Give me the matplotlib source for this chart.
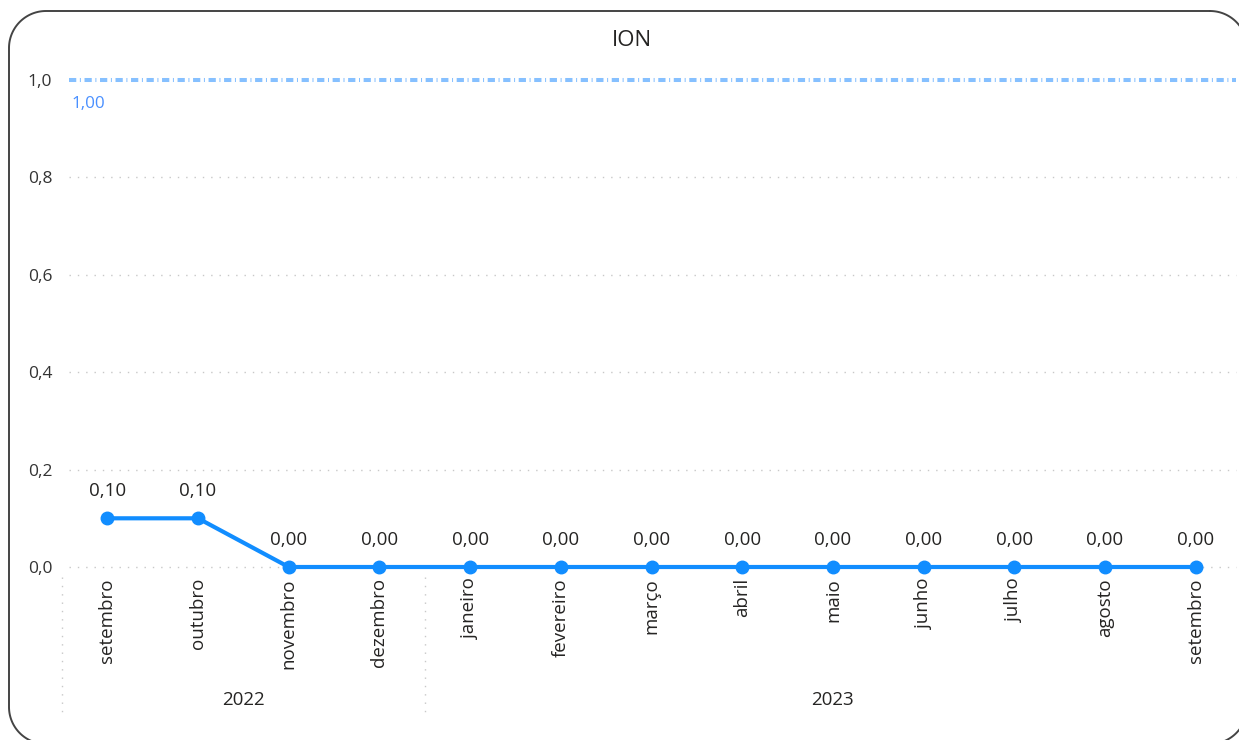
import matplotlib
matplotlib.use("Agg")
import matplotlib.pyplot as plt
import numpy as np
from matplotlib.lines import Line2D

# data
months = ["setembro", "outubro", "novembro", "dezembro", "janeiro", "fevereiro",
          "março", "abril", "maio", "junho", "julho", "agosto", "setembro"]
years = ["2022", "2023"]
year_counts = [4, 9]
ion = [0.10, 0.10, 0.00, 0.00, 0.00, 0.00, 0.00, 0.00, 0.00, 0.00, 0.00, 0.00, 0.00]
meta = 1.0
yticks = [0.0, 0.2, 0.4, 0.6, 0.8, 1.0]

plt.rcParams['font.family'] = ['Open Sans', 'DejaVu Sans']

W, H = 1239, 740
fig = plt.figure(figsize=(W / 100, H / 100), dpi=100)

# rounded card border, drawn as a polyline in pixel coordinates (y down)
bg = fig.add_axes([0, 0, 1, 1])
bg.set_xlim(0, W)
bg.set_ylim(H, 0)
bg.axis("off")
L, T, R, B, r = 9, 11, 1247, 744, 37
bx, by = [], []
for cx, cy, a0 in [(R - r, T + r, -90), (R - r, B - r, 0),
                   (L + r, B - r, 90), (L + r, T + r, 180)]:
    t = np.radians(np.linspace(a0, a0 + 90, 30))
    bx += list(cx + r * np.cos(t))
    by += list(cy + r * np.sin(t))
bx.append(bx[0])
by.append(by[0])
bg.plot(bx, by, color="#444444", lw=1.4, clip_on=True)

x0, x1 = 62, 1241
yb, yt = 567, 80
ax = fig.add_axes([x0 / W, (H - yb) / H, (x1 - x0) / W, (yb - yt) / H])
ax.patch.set_alpha(0)
ax.set_xlim(-0.5, len(months) - 0.5)
ax.set_ylim(0, 1.0)
for s in ax.spines.values():
    s.set_visible(False)

# grid
for v in yticks[:-1]:
    ax.plot([-0.42, 12.45], [v, v], color="#c8c8c8", lw=1, ls=(0, (1, 5)),
            zorder=1, clip_on=False)

ax.set_yticks(yticks)
ax.set_yticklabels([f"{v:.1f}".replace(".", ",") for v in yticks],
                   fontsize=12.5, color="#333333")
ax.tick_params(axis="y", length=0, pad=7)
ax.set_xticks([])

# reference line
ax.plot([-0.42, 12.45], [meta, meta], color="#86c0ff", lw=2.9,
        ls=(0, (1.8, 0.9, 0.25, 0.9)), clip_on=False, zorder=2)
ax.text(-0.39, meta - 0.033, f"{meta:.2f}".replace(".", ","), color="#4a90ff",
        fontsize=12.3, ha="left", va="top")

# main series
xs = list(range(len(months)))
ax.plot(xs, ion, color="#118dff", lw=3, marker="o", markersize=9,
        clip_on=False, zorder=3)
for x, v in zip(xs, ion):
    ax.annotate(f"{v:.2f}".replace(".", ","), (x, v), xytext=(0, 13),
                textcoords="offset points", ha="center", va="bottom",
                fontsize=13.5, color="#252423")

# month labels
for x, m in zip(xs, months):
    ax.annotate(m, (x, 0), xytext=(0, -8), textcoords="offset points",
                rotation=90, ha="center", va="top", fontsize=13.5,
                color="#252423", annotation_clip=False)

# year labels and separators
start = 0
for yr, n in zip(years, year_counts):
    mid = start + (n - 1) / 2
    ax.annotate(yr, (mid, 0), xytext=(0, -95.5), textcoords="offset points",
                ha="center", va="center", fontsize=13.5, color="#252423",
                annotation_clip=False)
    sep = start - 0.5
    fig.add_artist(Line2D([ax.transData.transform((sep, 0))[0] / W] * 2,
                          [(H - 577) / H, (H - 717) / H],
                          color="#c8c8c8", lw=1, ls=(0, (1, 5))))
    start += n

fig.text(632 / W, 1 - 41 / H, "ION", ha="center", va="center", fontsize=16,
         color="#252423")

fig.savefig("out.png", dpi=100)
